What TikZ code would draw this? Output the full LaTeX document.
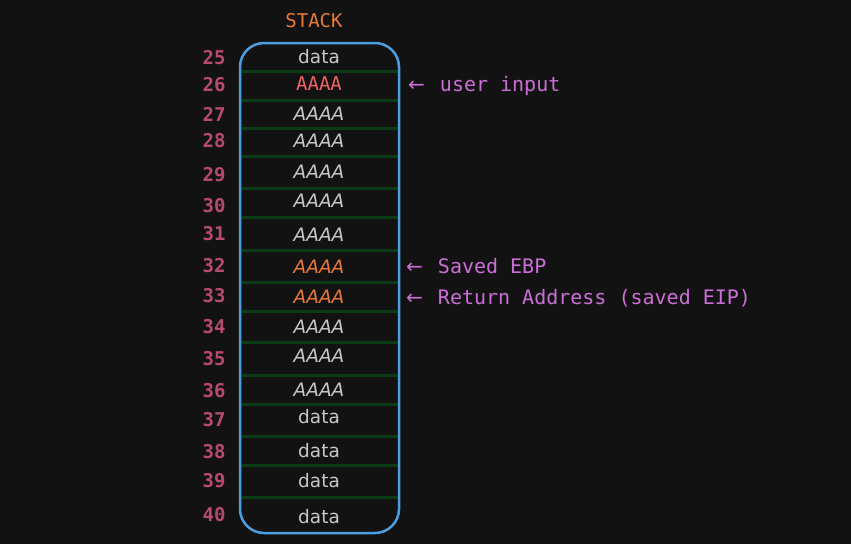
\documentclass[tikz,border=0pt]{standalone}
\usepackage{fontspec}
\setmonofont{DejaVu Sans Mono}
\newfontfamily\handfont{DejaVu Sans}
\definecolor{bgcol}{HTML}{121212}
\definecolor{boxblue}{HTML}{4A9FE0}
\definecolor{sepgreen}{HTML}{0B3A16}
\definecolor{numpink}{HTML}{B84A72}
\definecolor{stackorange}{HTML}{E8793A}
\definecolor{notepurple}{HTML}{CC6ED8}
\definecolor{inred}{HTML}{F06464}
\definecolor{handgray}{HTML}{C8C8C8}
\newcommand{\larr}{{\handfont ←}\hspace{15pt}}
\begin{document}
\begin{tikzpicture}[x=1pt,y=-1pt,
  num/.style={font=\ttfamily\bfseries\fontsize{19}{19}\selectfont, text=numpink, inner sep=0pt},
  cell/.style={font=\handfont\fontsize{18.5}{18.5}\selectfont, text=handgray, inner sep=0pt},
  hot/.style={cell, font=\handfont\itshape\fontsize{18.5}{18.5}\selectfont, text=stackorange},
  plain/.style={cell, font=\handfont\itshape\fontsize{18.5}{18.5}\selectfont},
  input/.style={cell, font=\ttfamily\fontsize{19}{19}\selectfont, text=inred},
  note/.style={font=\ttfamily\fontsize{20}{20}\selectfont, text=notepurple, anchor=west, inner sep=0pt}]
\fill[bgcol] (0,0) rectangle (851,544);
\useasboundingbox (0,0) rectangle (851,544);
%
\node[font=\ttfamily\fontsize{19}{19}\selectfont, text=stackorange, inner sep=0pt] (title) at (314,21) {STACK};
%
\foreach \y in {71,100,128,156,188,217,250,282,311,342,375,404,436,465,497}
  \draw[sepgreen, line width=3pt] (242,\y) -- (398,\y);
\draw[boxblue, line width=2.5pt, rounded corners=24pt] (240,43) rectangle (399,533);
%
\foreach \n/\y in {25/58,26/85,27/114,28/141,29/175,30/206,31/234,32/266,
                   33/296,34/327,35/359,36/391,37/420,38/452,39/481,40/515}
  \node[num] (n\n) at (214,\y) {\n};
%
\foreach \c/\y/\s/\t in {25/57/cell/data,26/84/input/AAAA,27/114/plain/AAAA,
    28/141/plain/AAAA,29/172/plain/AAAA,30/201/plain/AAAA,31/235/plain/AAAA,
    32/267/hot/AAAA,33/297/hot/AAAA,34/327/plain/AAAA,35/356/plain/AAAA,
    36/390/plain/AAAA,37/417/cell/data,38/451/cell/data,39/481/cell/data,40/517/cell/data}
  \node[\s] (c\c) at (319,\y) {\t};
%
\node[note] (input) at (408,86) {\larr user input};
\node[note] (ebp) at (406,266) {\larr Saved EBP};
\node[note] (eip) at (406,298) {\larr Return Address (saved EIP)};
\end{tikzpicture}
\end{document}
